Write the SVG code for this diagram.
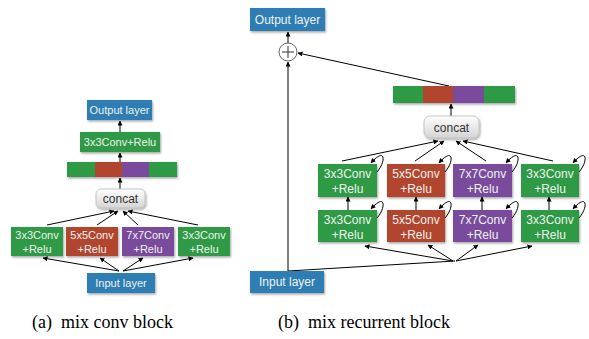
<svg xmlns="http://www.w3.org/2000/svg" width="589" height="339" viewBox="0 0 589 339">
  <style>
    .lbl { font-family: "Liberation Sans", Arial, sans-serif; fill: #eef2ee; text-anchor: middle; }
    .s11 { font-size: 11px; }
    .s12 { font-size: 12px; }
    .cc { font-family: "Liberation Sans", Arial, sans-serif; fill: #333; text-anchor: middle; }
    .cap { font-family: "Liberation Serif", "Times New Roman", serif; font-size: 18px; fill: #000; white-space: pre; }
    .blue { fill: #2e7db4; }
    .green { fill: #2f9a45; }
    .red { fill: #b2452f; }
    .purple { fill: #7a4c9c; }
    .box { filter: url(#shadow); }
    .edge { stroke: #000; stroke-width: 1; fill: none; }
    .arr { marker-end: url(#head); }
  </style>
  <defs>
    <marker id="head" viewBox="0 0 10 10" refX="9" refY="5" markerWidth="5" markerHeight="5" orient="auto" markerUnits="userSpaceOnUse">
      <path d="M0,0 L10,5 L0,10 z" fill="#000"/>
    </marker>
    <filter id="shadow" x="-10%" y="-10%" width="130%" height="140%">
      <feDropShadow dx="1" dy="1.5" stdDeviation="0.8" flood-color="#000" flood-opacity="0.35"/>
    </filter>
    <linearGradient id="concatFill" x1="0" y1="0" x2="0" y2="1">
      <stop offset="0" stop-color="#ffffff"/>
      <stop offset="1" stop-color="#d4d4d4"/>
    </linearGradient>
  </defs>

  <!-- connectors -->
  <g id="connectors">
    <!-- panel a -->
    <line class="edge arr" x1="119" y1="271" x2="43" y2="258"/>
    <line class="edge arr" x1="119" y1="271" x2="100" y2="258"/>
    <line class="edge arr" x1="123" y1="271" x2="143" y2="258"/>
    <line class="edge arr" x1="123" y1="271" x2="193" y2="258"/>
    <line class="edge arr" x1="47" y1="225" x2="114" y2="211"/>
    <line class="edge arr" x1="97" y1="225" x2="118" y2="211"/>
    <line class="edge arr" x1="138" y1="225" x2="123" y2="211"/>
    <line class="edge arr" x1="198" y1="225" x2="128" y2="211"/>
    <line class="edge arr" x1="120" y1="189" x2="120" y2="178"/>
    <line class="edge arr" x1="120" y1="162" x2="120" y2="153"/>
    <line class="edge arr" x1="120" y1="132" x2="120" y2="121"/>

    <!-- panel b -->
    <line class="edge arr" x1="288" y1="271" x2="288" y2="62"/>
    <line class="edge arr" x1="288" y1="43" x2="288" y2="32"/>
    <line class="edge arr" x1="449" y1="86" x2="298" y2="53"/>
    <line class="edge arr" x1="451" y1="116" x2="451" y2="104"/>
    <line class="edge" x1="288" y1="271" x2="455" y2="261"/>
    <line class="edge arr" x1="453" y1="261" x2="365" y2="246"/>
    <line class="edge arr" x1="453" y1="261" x2="428" y2="245"/>
    <line class="edge arr" x1="456" y1="261" x2="478" y2="245"/>
    <line class="edge arr" x1="456" y1="261" x2="532" y2="246"/>
    <line class="edge arr" x1="342" y1="161" x2="438" y2="141"/>
    <line class="edge arr" x1="415" y1="161" x2="444" y2="141"/>
    <line class="edge arr" x1="486" y1="161" x2="456" y2="141"/>
    <line class="edge arr" x1="553" y1="161" x2="463" y2="141"/>
    <line class="edge arr" x1="348" y1="210" x2="348" y2="197"/>
    <line class="edge arr" x1="416" y1="210" x2="416" y2="197"/>
    <line class="edge arr" x1="482" y1="210" x2="482" y2="197"/>
    <line class="edge arr" x1="549" y1="210" x2="549" y2="197"/>
    <!-- recurrent self-loops -->
    <path class="edge arr" d="M377,172 C386,162 386,146 371,163"/>
    <path class="edge arr" d="M445,172 C454,162 454,146 439,163"/>
    <path class="edge arr" d="M512,172 C521,162 521,146 506,163"/>
    <path class="edge arr" d="M579,172 C588,162 588,146 573,163"/>
    <path class="edge arr" d="M377,218 C386,208 386,192 371,209"/>
    <path class="edge arr" d="M445,218 C454,208 454,192 439,209"/>
    <path class="edge arr" d="M512,218 C521,208 521,192 506,209"/>
    <path class="edge arr" d="M579,218 C588,208 588,192 573,209"/>
  </g>

  <!-- panel a nodes -->
  <g id="a-output">
    <rect class="box blue" x="87" y="100" width="65" height="20"/>
    <text class="lbl s11" x="119.5" y="114">Output layer</text>
  </g>
  <g id="a-conv-out">
    <rect class="box green" x="80" y="132" width="80" height="20"/>
    <text class="lbl s11" x="120" y="146">3x3Conv+Relu</text>
  </g>
  <g id="a-stripe">
    <g class="box">
      <rect class="green" x="67" y="162" width="28" height="15"/>
      <rect class="red" x="95" y="162" width="27" height="15"/>
      <rect class="purple" x="122" y="162" width="27" height="15"/>
      <rect class="green" x="149" y="162" width="28" height="15"/>
    </g>
  </g>
  <g id="a-concat">
    <rect x="96" y="189" width="49" height="19" rx="5" fill="url(#concatFill)" stroke="#bdbdbd" stroke-width="0.8" filter="url(#shadow)"/>
    <text class="cc s12" x="120.5" y="203">concat</text>
  </g>
  <g id="a-conv3">
    <rect class="box green" x="11" y="227" width="52" height="29"/>
    <text class="lbl s11" x="37" y="239">3x3Conv</text>
    <text class="lbl s11" x="37" y="253">+Relu</text>
  </g>
  <g id="a-conv5">
    <rect class="box red" x="66" y="227" width="52" height="29"/>
    <text class="lbl s11" x="92" y="239">5x5Conv</text>
    <text class="lbl s11" x="92" y="253">+Relu</text>
  </g>
  <g id="a-conv7">
    <rect class="box purple" x="122" y="227" width="52" height="29"/>
    <text class="lbl s11" x="148" y="239">7x7Conv</text>
    <text class="lbl s11" x="148" y="253">+Relu</text>
  </g>
  <g id="a-conv3b">
    <rect class="box green" x="178" y="227" width="52" height="29"/>
    <text class="lbl s11" x="204" y="239">3x3Conv</text>
    <text class="lbl s11" x="204" y="253">+Relu</text>
  </g>
  <g id="a-input">
    <rect class="box blue" x="87" y="273" width="68" height="20"/>
    <text class="lbl s11" x="121" y="287">Input layer</text>
  </g>

  <!-- panel b nodes -->
  <g id="b-output">
    <rect class="box blue" x="250" y="8" width="75" height="23"/>
    <text class="lbl s12" x="287.5" y="24">Output layer</text>
  </g>
  <g id="b-sum">
    <circle cx="288" cy="52" r="9" fill="#fff" stroke="#555" stroke-width="0.9"/>
    <line x1="282" y1="52" x2="294" y2="52" stroke="#333" stroke-width="1"/>
    <line x1="288" y1="46" x2="288" y2="58" stroke="#333" stroke-width="1"/>
  </g>
  <g id="b-stripe">
    <g class="box">
      <rect class="green" x="393" y="86" width="30" height="17"/>
      <rect class="red" x="423" y="86" width="30" height="17"/>
      <rect class="purple" x="453" y="86" width="31" height="17"/>
      <rect class="green" x="484" y="86" width="31" height="17"/>
    </g>
  </g>
  <g id="b-concat">
    <rect x="424" y="116" width="55" height="22" rx="6" fill="url(#concatFill)" stroke="#bdbdbd" stroke-width="0.8" filter="url(#shadow)"/>
    <text class="cc s12" x="451.5" y="131.5">concat</text>
  </g>
  <g id="b-top-conv3">
    <rect class="box green" x="318" y="164" width="59" height="33"/>
    <text class="lbl s12" x="347.5" y="178">3x3Conv</text>
    <text class="lbl s12" x="347.5" y="193">+Relu</text>
  </g>
  <g id="b-top-conv5">
    <rect class="box red" x="387" y="164" width="58" height="33"/>
    <text class="lbl s12" x="416" y="178">5x5Conv</text>
    <text class="lbl s12" x="416" y="193">+Relu</text>
  </g>
  <g id="b-top-conv7">
    <rect class="box purple" x="453" y="164" width="59" height="33"/>
    <text class="lbl s12" x="482.5" y="178">7x7Conv</text>
    <text class="lbl s12" x="482.5" y="193">+Relu</text>
  </g>
  <g id="b-top-conv3b">
    <rect class="box green" x="521" y="164" width="58" height="33"/>
    <text class="lbl s12" x="550" y="178">3x3Conv</text>
    <text class="lbl s12" x="550" y="193">+Relu</text>
  </g>
  <g id="b-bot-conv3">
    <rect class="box green" x="318" y="210" width="59" height="32"/>
    <text class="lbl s12" x="347.5" y="224">3x3Conv</text>
    <text class="lbl s12" x="347.5" y="239">+Relu</text>
  </g>
  <g id="b-bot-conv5">
    <rect class="box red" x="387" y="210" width="58" height="32"/>
    <text class="lbl s12" x="416" y="224">5x5Conv</text>
    <text class="lbl s12" x="416" y="239">+Relu</text>
  </g>
  <g id="b-bot-conv7">
    <rect class="box purple" x="453" y="210" width="59" height="32"/>
    <text class="lbl s12" x="482.5" y="224">7x7Conv</text>
    <text class="lbl s12" x="482.5" y="239">+Relu</text>
  </g>
  <g id="b-bot-conv3b">
    <rect class="box green" x="521" y="210" width="58" height="32"/>
    <text class="lbl s12" x="550" y="224">3x3Conv</text>
    <text class="lbl s12" x="550" y="239">+Relu</text>
  </g>
  <g id="b-input">
    <rect class="box blue" x="250" y="271" width="74" height="22"/>
    <text class="lbl s12" x="287" y="286">Input layer</text>
  </g>

  <!-- captions -->
  <text class="cap" x="32" y="328">(a)  mix conv block</text>
  <text class="cap" x="278" y="328">(b)  mix recurrent block</text>
</svg>
